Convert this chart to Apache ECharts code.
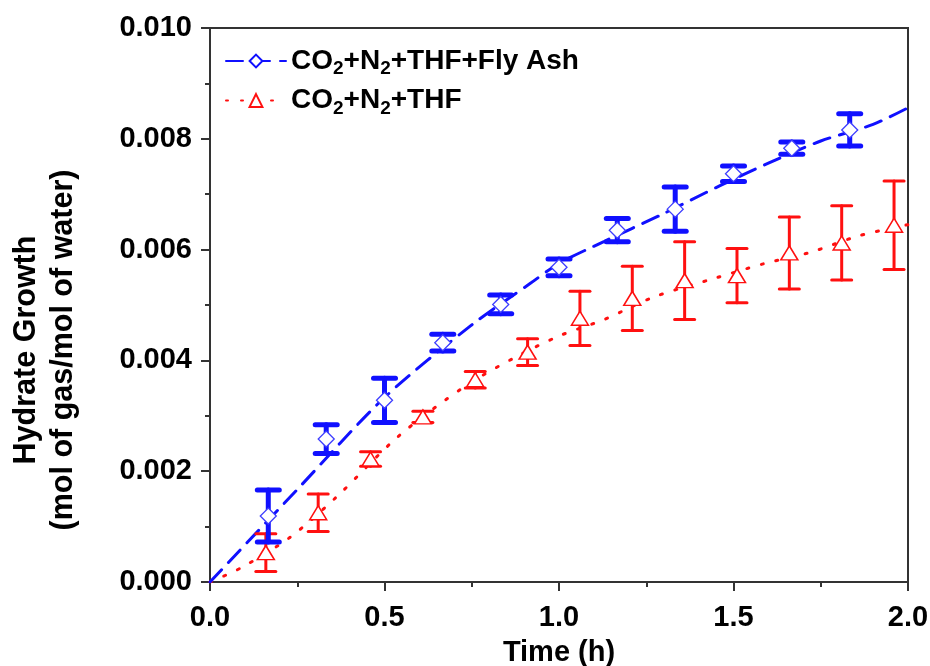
<!DOCTYPE html>
<html>
<head>
<meta charset="utf-8">
<script src="https://cdn.jsdelivr.net/npm/echarts@6/dist/echarts.min.js"></script>
<style>
  html, body { margin: 0; padding: 0; background: #fff; }
  #chart { width: 930px; height: 666px; }
</style>
</head>
<body>
<div id="chart"></div>
<script>
// Hydrate growth vs time, with and without fly ash
const seriesNames = ['CO2+N2+THF+Fly Ash', 'CO2+N2+THF'];

// Measured points (time in h, growth in mol gas / mol water) with ± error
const ashTime = [0.167, 0.333, 0.5, 0.667, 0.833, 1.0, 1.167, 1.333, 1.5, 1.667, 1.833];
const ashGrowth = [0.00119, 0.00258, 0.00328, 0.00432, 0.00501, 0.00568, 0.00635, 0.00673, 0.00737, 0.00783, 0.00816];
const ashErr = [0.00047, 0.00026, 0.0004, 0.00015, 0.00017, 0.00015, 0.00021, 0.0004, 0.00014, 0.00011, 0.00029];

const thfTime = [0.16, 0.31, 0.46, 0.61, 0.76, 0.91, 1.06, 1.21, 1.36, 1.51, 1.66, 1.81, 1.96];
const thfGrowth = [0.00053, 0.00125, 0.00222, 0.00298, 0.00365, 0.00415, 0.00476, 0.00512, 0.00544, 0.00553, 0.00594, 0.00612, 0.00644];
const thfErr = [0.00034, 0.00034, 0.00013, 0.0001, 0.00015, 0.00024, 0.00049, 0.00058, 0.0007, 0.00049, 0.00065, 0.00067, 0.0008];

// Fitted trend curves
const ashFitTime = [0, 0.25, 0.5, 0.75, 0.92, 1.0, 1.13, 1.29, 1.46, 1.6, 1.75, 1.9, 2.0];
const ashFitGrowth = [0, 0.00167, 0.00333, 0.00464, 0.0054, 0.00575, 0.00615, 0.00662, 0.00715, 0.00756, 0.00796, 0.00826, 0.00856];
const thfFitTime = [0, 0.09, 0.23, 0.36, 0.54, 0.73, 0.87, 1.0, 1.13, 1.27, 1.45, 1.59, 1.72, 1.86, 2.0];
const thfFitGrowth = [0, 0.00026, 0.00081, 0.00152, 0.00263, 0.00353, 0.00404, 0.00444, 0.00474, 0.00514, 0.00549, 0.00575, 0.00595, 0.00625, 0.00645];

// Axis ticks
const xTickLabels = ['0.0', '0.5', '1.0', '1.5', '2.0'];
const yTickLabels = ['0.000', '0.002', '0.004', '0.006', '0.008', '0.010'];

const BLUE = '#1010ff';
const RED = '#ff1010';
const AXIS = '#333';
const FONT = '"Liberation Sans", Arial, sans-serif';

const zip = (a, b) => a.map((v, i) => [v, b[i]]);
const zip3 = (a, b, c) => a.map((v, i) => [v, b[i], c[i]]);

function errorBars(color, lineW, capW) {
  return function (params, api) {
    const x = api.value(0), y = api.value(1), e = api.value(2);
    const top = api.coord([x, y + e]);
    const bot = api.coord([x, y - e]);
    const st = { stroke: color, lineWidth: lineW, lineCap: 'round' };
    return {
      type: 'group',
      children: [
        { type: 'line', shape: { x1: top[0], y1: top[1], x2: bot[0], y2: bot[1] }, style: st },
        { type: 'line', shape: { x1: top[0] - capW / 2, y1: top[1], x2: top[0] + capW / 2, y2: top[1] }, style: st },
        { type: 'line', shape: { x1: bot[0] - capW / 2, y1: bot[1], x2: bot[0] + capW / 2, y2: bot[1] }, style: st }
      ]
    };
  };
}

const chart = echarts.init(document.getElementById('chart'));

const labelStyle = { color: '#000', fontFamily: FONT, fontWeight: 'bold', fontSize: 29 };

function axisCommon() {
  return {
    axisLine: { show: true, onZero: false, lineStyle: { color: AXIS, width: 2 } },
    axisTick: { show: true, inside: false, length: 9, lineStyle: { color: AXIS, width: 2 } },
    minorTick: { show: true, splitNumber: 2, length: 5, lineStyle: { color: AXIS, width: 2 } },
    splitLine: { show: false }
  };
}

chart.setOption({
  animation: false,
  backgroundColor: '#fff',
  grid: {
    left: 210, right: 22, top: 28, bottom: 84,
    containLabel: false,
    outerBoundsMode: 'none',
    show: true, borderColor: AXIS, borderWidth: 2, backgroundColor: 'transparent'
  },
  legend: {
    data: seriesNames,
    orient: 'vertical',
    left: 220,
    top: 42,
    itemWidth: 60,
    itemHeight: 16,
    itemGap: 8,
    formatter: name => name.replace(/2/g, '{sub|2}'),
    textStyle: {
      color: '#000', fontFamily: FONT, fontWeight: 'bold', fontSize: 28,
      rich: {
        sub: { fontFamily: FONT, fontWeight: 'bold', fontSize: 19, verticalAlign: 'bottom', padding: [16, 0, 0, 0] }
      }
    }
  },
  xAxis: Object.assign(axisCommon(), {
    type: 'value',
    min: 0, max: 2, interval: 0.5,
    name: 'Time (h)',
    nameLocation: 'middle',
    nameGap: 56,
    nameTextStyle: Object.assign({}, labelStyle),
    axisLabel: Object.assign({ margin: 21, formatter: v => xTickLabels[Math.round(v / 0.5)] }, labelStyle)
  }),
  yAxis: Object.assign(axisCommon(), {
    type: 'value',
    min: 0, max: 0.01, interval: 0.002,
    name: 'Hydrate Growth\n(mol of gas/mol of water)',
    nameLocation: 'middle',
    nameGap: 128,
    nameRotate: 90,
    // extra right-side padding pushes the rotated title down the axis
    nameTextStyle: Object.assign({ lineHeight: 37, align: 'center', padding: [0, 90, 0, 0] }, labelStyle, { fontSize: 30.5 }),
    axisLabel: Object.assign({ margin: 18, formatter: v => yTickLabels[Math.round(v / 0.002)] }, labelStyle)
  }),
  series: [
    {
      name: seriesNames[1],
      type: 'line',
      data: zip(thfFitTime, thfFitGrowth),
      smooth: 0.3,
      showSymbol: false,
      symbol: 'triangle',
      symbolSize: 14,
      itemStyle: { color: '#fff', borderColor: RED, borderWidth: 1.5 },
      lineStyle: { color: RED, width: 3, type: [2, 13], cap: 'round' },
      z: 1
    },
    {
      name: seriesNames[0],
      type: 'line',
      data: zip(ashFitTime, ashFitGrowth),
      smooth: 0.3,
      showSymbol: false,
      symbol: 'diamond',
      symbolSize: 14,
      itemStyle: { color: '#fff', borderColor: BLUE, borderWidth: 1.5 },
      lineStyle: { color: BLUE, width: 3, type: [17, 10], cap: 'round' },
      z: 1
    },
    {
      name: 'thfErr',
      type: 'custom',
      data: zip3(thfTime, thfGrowth, thfErr),
      renderItem: errorBars(RED, 3, 20),
      z: 2
    },
    {
      name: 'ashErr',
      type: 'custom',
      data: zip3(ashTime, ashGrowth, ashErr),
      renderItem: errorBars(BLUE, 5, 22),
      z: 2
    },
    {
      name: 'thfPts',
      type: 'scatter',
      data: zip(thfTime, thfGrowth),
      symbol: 'triangle',
      symbolSize: [17, 14],
      itemStyle: { color: '#fff', borderColor: RED, borderWidth: 1.5, opacity: 1 },
      z: 3
    },
    {
      name: 'ashPts',
      type: 'scatter',
      data: zip(ashTime, ashGrowth),
      symbol: 'diamond',
      symbolSize: [16, 16],
      itemStyle: { color: '#fff', borderColor: '#3c3cff', borderWidth: 1.3, opacity: 1 },
      z: 3
    }
  ]
});
</script>
</body>
</html>
